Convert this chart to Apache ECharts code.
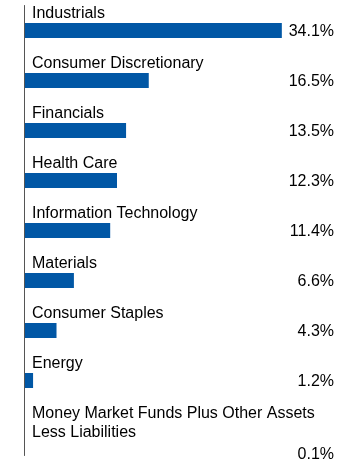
<!DOCTYPE html>
<html>
<head>
<meta charset="utf-8">
<script src="https://cdn.jsdelivr.net/npm/echarts@6/dist/echarts.min.js"></script>
<style>
html,body{margin:0;padding:0;background:#fff;}
#c{width:360px;height:467px;}
</style>
</head>
<body>
<div id="c"></div>
<script>
var categories = [
  "Industrials",
  "Consumer Discretionary",
  "Financials",
  "Health Care",
  "Information Technology",
  "Materials",
  "Consumer Staples",
  "Energy",
  "Money Market Funds Plus Other Assets\nLess Liabilities"
];
var values = [34.1, 16.5, 13.5, 12.3, 11.4, 6.6, 4.3, 1.2, 0.1];

var FONT = '"Liberation Sans", Arial, Helvetica, sans-serif';
var chart = echarts.init(document.getElementById('c'), null, {renderer: 'canvas'});

chart.setOption({
  animation: false,
  grid: {left: 24, right: 26, top: 5.5, height: 450, containLabel: false, outerBoundsMode: 'none'},
  xAxis: {type: 'value', min: 0, max: 41, show: false},
  yAxis: [{
    type: 'category',
    inverse: true,
    z: 10,
    data: categories,
    axisLine: {show: true, lineStyle: {color: '#555', width: 1}},
    axisTick: {show: false},
    axisLabel: {
      inside: true, margin: 8, color: '#000', fontSize: 16, fontFamily: FONT, align: 'left',
      interval: 0, showMinLabel: true, showMaxLabel: true, hideOverlap: false,
      lineHeight: 19, padding: [0, 0, 34, 0],
      formatter: function (v) {
        return v.indexOf('\n') >= 0 ? '{s| }\n' + v : v;
      },
      rich: {s: {lineHeight: 19, fontSize: 16, fontFamily: FONT}}
    }
  }, {
    type: 'category',
    inverse: true,
    position: 'right',
    z: 10,
    data: categories,
    axisLine: {show: false},
    axisTick: {show: false},
    axisLabel: {
      inside: true, margin: 0, color: '#000', fontSize: 16, fontFamily: FONT, align: 'right',
      interval: 0, showMinLabel: true, showMaxLabel: true, hideOverlap: false,
      lineHeight: 19, padding: [2, 0, 0, 0],
      formatter: function (v, i) {
        var t = values[i].toFixed(1) + '%';
        return v.indexOf('\n') >= 0 ? '{s| }\n' + t : t;
      },
      rich: {s: {lineHeight: 46, fontSize: 16, fontFamily: FONT}}
    }
  }],
  series: [{
    type: 'bar',
    yAxisIndex: 0,
    data: values,
    barWidth: 15,
    itemStyle: {color: '#0157a5'},
    silent: true
  }]
});
</script>
</body>
</html>
